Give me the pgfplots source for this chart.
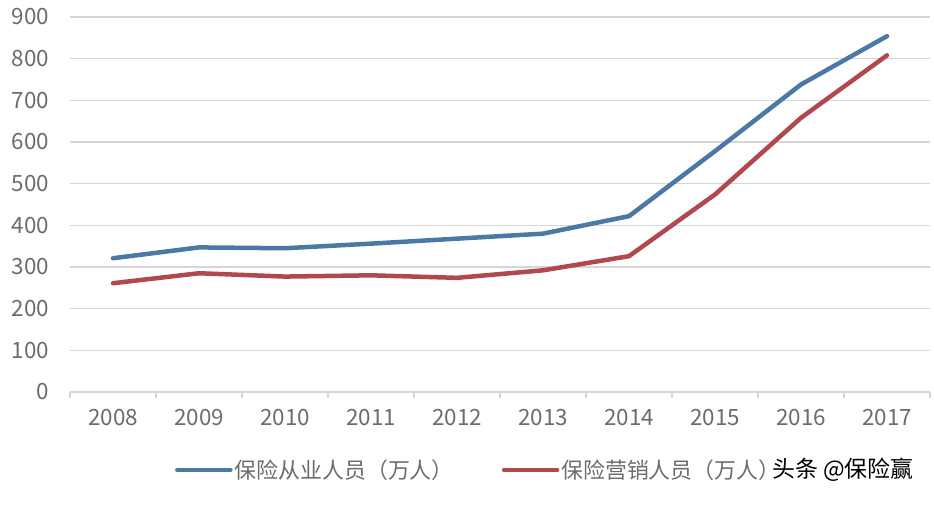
\documentclass[border=0pt]{standalone}
\usepackage{fontspec}
\setmainfont{Noto Sans CJK SC}
\usepackage{pgfplots}
\pgfplotsset{compat=1.18}
\definecolor{BlueLine}{RGB}{76,120,166}
\definecolor{RedLine}{RGB}{176,72,78}
\definecolor{TickGray}{RGB}{108,108,108}
\definecolor{GridGray}{RGB}{214,214,214}

\begin{document}
\begin{tikzpicture}[x=1bp,y=1bp]
\useasboundingbox (0,0) rectangle (934,505);
\begin{axis}[
  at={(70bp,113bp)}, anchor=south west,
  scale only axis, width=860bp, height=375bp,
  xmin=-0.5, xmax=9.5, ymin=0, ymax=900,
  axis x line*=bottom, axis y line*=left,
  y axis line style={draw=none},
  x axis line style={GridGray, line width=1.2bp},
  ytick={0,100,...,900},
  ymajorgrids, grid style={GridGray, line width=1.2bp},
  ytick style={draw=none},
  xtick={0,...,9},
  xticklabels={2008,2009,2010,2011,2012,2013,2014,2015,2016,2017},
  major x tick style={draw=none},
  minor xtick={-0.5,0.5,...,9.5},
  minor x tick style={GridGray, line width=1.2bp},
  minor tick length=6bp,
  tick align=outside,
  /pgf/number format/assume math mode=true,
  tick label style={font=\fontsize{22.5}{26}\selectfont, text=TickGray},
  yticklabel style={xshift=-13bp},
  xticklabel style={yshift=-9bp},
  legend columns=2,
  legend style={at={(0.122,-0.208)}, anchor=west, draw=none, fill=none,
    font=\fontsize{22}{24}\selectfont, text=TickGray, inner sep=0pt,
    /tikz/every even column/.append style={column sep=46bp}},
  legend image code/.code={\draw[#1, line width=4.5bp] (0bp,0bp) -- (53bp,0bp);},
]
\addplot[BlueLine, line width=4.5bp, line join=round, line cap=round] coordinates {
  (0,321) (1,347) (2,345) (3,356) (4,368) (5,380) (6,422) (7,578) (8,738) (9,854)
};
\addlegendentry{保险从业人员（万人）}
\addplot[RedLine, line width=4.5bp, line join=round, line cap=round] coordinates {
  (0,261) (1,285) (2,277) (3,280) (4,274) (5,292) (6,326) (7,474) (8,658) (9,808)
};
\addlegendentry{保险营销人员（万人）}
\end{axis}
\node[anchor=west, font=\fontsize{23}{26}\selectfont, inner sep=0pt] at (772,35) {头条 @保险赢};
\end{tikzpicture}
\end{document}
